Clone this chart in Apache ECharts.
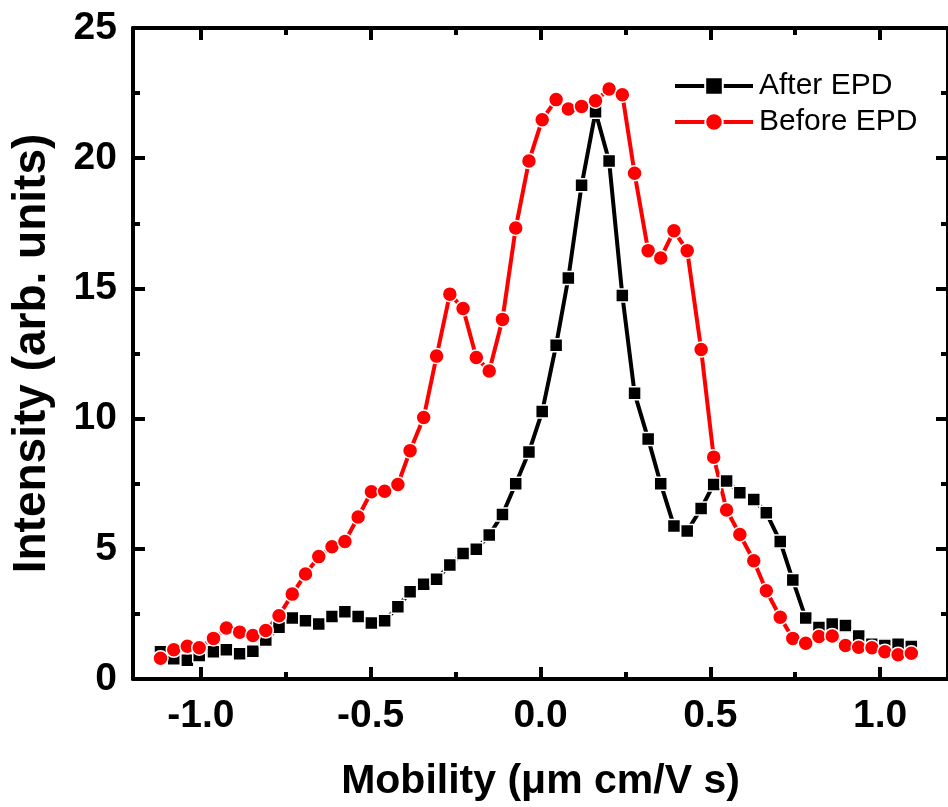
<!DOCTYPE html>
<html>
<head>
<meta charset="utf-8">
<script src="https://cdn.jsdelivr.net/npm/echarts@6/dist/echarts.min.js"></script>
<style>
html,body{margin:0;padding:0;background:#fff;}
#chart{width:948px;height:807px;}
</style>
</head>
<body>
<div id="chart"></div>
<script>
// Mobility (x) values shared by both series
const mobility = [-1.119,-1.080,-1.040,-1.005,-0.963,-0.925,-0.886,-0.847,-0.809,-0.770,
  -0.731,-0.692,-0.653,-0.614,-0.576,-0.537,-0.498,-0.459,-0.420,-0.384,
  -0.344,-0.306,-0.267,-0.228,-0.189,-0.151,-0.112,-0.073,-0.034,0.005,
  0.046,0.082,0.121,0.162,0.202,0.241,0.277,0.317,0.354,0.393,
  0.432,0.473,0.510,0.548,0.587,0.628,0.665,0.706,0.743,0.781,
  0.820,0.859,0.898,0.937,0.976,1.014,1.053,1.092];
const afterEPD = [1.05,0.78,0.72,0.90,1.05,1.12,0.97,1.07,1.50,1.99,
  2.34,2.24,2.11,2.40,2.58,2.40,2.15,2.24,2.77,3.35,
  3.64,3.83,4.38,4.82,4.98,5.53,6.32,7.50,8.72,10.27,
  12.82,15.40,18.96,21.78,19.89,14.73,10.97,9.22,7.50,5.88,
  5.68,6.55,7.47,7.60,7.15,6.89,6.38,5.28,3.80,2.34,
  1.98,2.11,2.05,1.65,1.33,1.29,1.33,1.25];
const beforeEPD = [0.80,1.12,1.26,1.20,1.56,1.96,1.80,1.67,1.86,2.43,
  3.26,4.03,4.70,5.08,5.28,6.22,7.19,7.21,7.47,8.77,
  10.04,12.40,14.78,14.23,12.35,11.83,13.81,17.32,19.89,21.48,
  22.25,21.89,21.99,22.21,22.66,22.44,19.42,16.45,16.17,17.21,
  16.45,12.65,8.52,6.49,5.55,4.54,3.39,2.37,1.56,1.37,
  1.63,1.65,1.29,1.22,1.20,1.05,0.93,0.99];
const xMajorTicks = [-1.0,-0.5,0.0,0.5,1.0];
const xMinorTicks = [-0.75,-0.25,0.25,0.75];
const seriesNames = ['After EPD','Before EPD'];
const xTitle = 'Mobility (\u03bcm cm/V s)';
const yTitle = 'Intensity (arb. units)';

const FONT = '"Liberation Sans", Arial, sans-serif';
const chart = echarts.init(document.getElementById('chart'), null, {renderer:'canvas'});
const axLine = {show:true, onZero:false, lineStyle:{color:'#000', width:4}};
const xRange = {min:-1.2, max:1.2};
function xAxisDef(pos, ticks, len, withLabel, withLine){
  return {
    type:'value', position:pos, min:xRange.min, max:xRange.max, gridIndex:0,
    axisLine: withLine ? axLine : {show:false, onZero:false},
    axisTick:{show:true, inside:true, length:len, customValues:ticks, lineStyle:{color:'#000', width:4}},
    axisLabel:{show:withLabel, customValues:ticks, margin:18, color:'#000', fontFamily:FONT, fontWeight:'bold', fontSize:39,
      formatter: v => Number(v).toFixed(1)},
    splitLine:{show:false}
  };
}
const xAxes = [
  Object.assign(xAxisDef('bottom', xMajorTicks, 12, true, true), {
    name:xTitle, nameLocation:'middle', nameGap:82,
    nameTextStyle:{color:'#000', fontFamily:FONT, fontWeight:'bold', fontSize:41, verticalAlign:'top'}
  }),
  xAxisDef('bottom', xMinorTicks, 7, false, false),
  xAxisDef('top', xMajorTicks, 12, false, true),
  xAxisDef('top', xMinorTicks, 7, false, false)
];
function yAxisDef(pos, withLabel){
  return {
    type:'value', position:pos, min:0, max:25, interval:5,
    axisLine:axLine,
    axisTick:{show:true, inside:true, length:12, lineStyle:{color:'#000', width:4}},
    minorTick:{show:true, splitNumber:2, length:7, lineStyle:{color:'#000', width:4}},
    axisLabel:{show:withLabel, margin:16, color:'#000', fontFamily:FONT, fontWeight:'bold', fontSize:39},
    splitLine:{show:false}, minorSplitLine:{show:false}
  };
}
const yAxes = [
  Object.assign(yAxisDef('left', true), {
    name:yTitle, nameLocation:'middle', nameGap:78,
    nameTextStyle:{color:'#000', fontFamily:FONT, fontWeight:'bold', fontSize:46}
  }),
  yAxisDef('right', false)
];
const pairs = ys => mobility.map((x,i) => [x, ys[i]]);
chart.setOption({
  animation:false,
  backgroundColor:'#fff',
  grid:{left:133, top:28, width:824, height:654, containLabel:false},
  xAxis:xAxes,
  yAxis:yAxes,
  legend:{
    show:true, orient:'vertical', left:668, top:66, itemWidth:78, itemHeight:22, itemGap:6,
    lineStyle:{width:4},
    textStyle:{color:'#000', fontFamily:FONT, fontSize:30, padding:[0,0,0,1]},
    data:seriesNames
  },
  series:[
    {name:seriesNames[0], type:'line', xAxisIndex:0, yAxisIndex:0, data:pairs(afterEPD),
     symbol:'rect', symbolSize:13, showAllSymbol:true,
     lineStyle:{color:'#000', width:4}, itemStyle:{color:'#000', borderColor:'#fff', borderWidth:1.5}},
    {name:seriesNames[1], type:'line', xAxisIndex:0, yAxisIndex:0, data:pairs(beforeEPD),
     symbol:'circle', symbolSize:15, showAllSymbol:true,
     lineStyle:{color:'#ff0000', width:4}, itemStyle:{color:'#ff0000', borderColor:'#fff', borderWidth:1.5}}
  ]
});
</script>
</body>
</html>
